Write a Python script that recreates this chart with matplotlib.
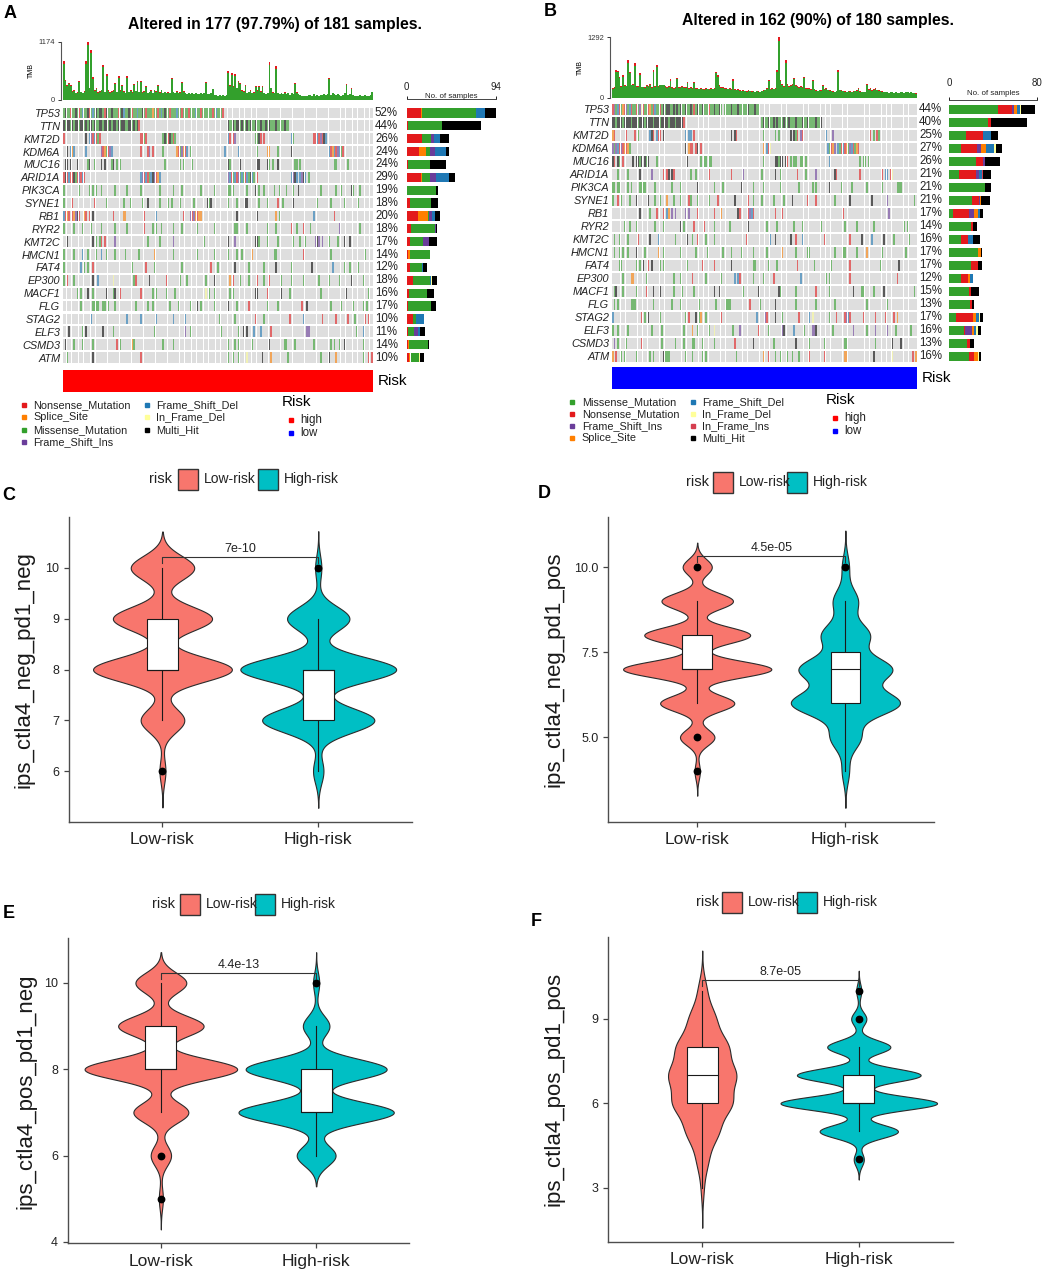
import numpy as np
import matplotlib
matplotlib.use('Agg')
import matplotlib.pyplot as plt
from matplotlib.patches import Rectangle

plt.rcParams['font.family'] = ['Liberation Sans', 'DejaVu Sans']

W, H = 1052, 1275

# ---------------- oncoplot data ----------------
genes = ['TP53', 'TTN', 'KMT2D', 'KDM6A', 'MUC16', 'ARID1A', 'PIK3CA', 'SYNE1', 'RB1', 'RYR2',
         'KMT2C', 'HMCN1', 'FAT4', 'EP300', 'MACF1', 'FLG', 'STAG2', 'ELF3', 'CSMD3', 'ATM']

n_a = 181
n_b = 180
risk_a = ['high'] * n_a
risk_b = ['low'] * n_b

pct_a = ['52%', '44%', '26%', '24%', '24%', '29%', '19%', '18%', '20%', '18%',
         '17%', '14%', '12%', '18%', '16%', '17%', '10%', '11%', '14%', '10%']
pct_b = ['44%', '40%', '25%', '27%', '26%', '21%', '21%', '21%', '17%', '14%',
         '16%', '17%', '17%', '12%', '15%', '13%', '17%', '16%', '13%', '16%']

# variant class codes: M missense, N nonsense, S splice, I frame-shift ins, D frame-shift del,
# d in-frame del, i in-frame ins, H multi-hit
vc_order_a = ['N', 'S', 'M', 'I', 'D', 'd', 'H']
side_a = [[15, 1, 57, 0, 9, 0, 12], [1, 0, 36, 0, 0, 0, 41], [16, 0, 10, 3, 6, 0, 10],
          [13, 7, 4, 6, 11, 0, 3], [1, 0, 24, 0, 0, 0, 16], [15, 1, 8, 7, 13, 0, 7],
          [0, 0, 31, 0, 0, 0, 2], [3, 0, 23, 0, 0, 0, 7], [12, 10, 1, 4, 3, 0, 5],
          [4, 0, 26, 1, 0, 0, 1], [3, 0, 14, 6, 0, 0, 9], [1, 2, 21, 0, 1, 0, 0],
          [3, 0, 13, 0, 1, 0, 4], [7, 0, 18, 0, 1, 1, 5], [2, 0, 19, 0, 0, 0, 8],
          [1, 0, 25, 0, 0, 0, 5], [7, 0, 3, 0, 8, 0, 0], [1, 0, 7, 4, 2, 0, 5],
          [1, 1, 20, 0, 0, 0, 2], [2, 2, 9, 0, 0, 1, 4]]
vc_order_b = ['M', 'N', 'I', 'S', 'D', 'd', 'i', 'H']
side_b = [[45, 12, 2, 3, 3, 1, 0, 12], [35, 3, 0, 0, 0, 0, 0, 33], [15, 16, 0, 0, 7, 0, 0, 7],
          [11, 14, 4, 5, 7, 2, 0, 5], [24, 7, 2, 0, 0, 0, 0, 13], [9, 15, 3, 0, 3, 0, 1, 7],
          [33, 0, 0, 0, 0, 0, 0, 5], [21, 6, 1, 1, 0, 0, 0, 8], [3, 15, 5, 3, 2, 0, 0, 3],
          [20, 2, 0, 0, 0, 0, 0, 3], [11, 6, 0, 0, 5, 0, 0, 6], [26, 0, 0, 3, 0, 0, 0, 1],
          [20, 6, 0, 0, 0, 0, 0, 4], [11, 6, 0, 2, 3, 0, 0, 0], [18, 2, 0, 0, 0, 0, 0, 7],
          [19, 2, 0, 0, 0, 0, 0, 2], [6, 16, 0, 2, 3, 1, 0, 3], [13, 1, 7, 2, 1, 2, 0, 3],
          [16, 3, 0, 0, 0, 0, 0, 4], [18, 5, 0, 3, 0, 1, 0, 2]]

# "start:codes" runs, a token without start continues the previous run
mut_a = [
    "0:MHMMNMMHMN MDMMHNMDMH MHHMNHMMHM MMNMHDMMHM NMMDMMHMNM MMSMMNMDMH MMNMMMDMMN MMMNMMMDMM NMMMMMMNMD MMMN",
    "0:HMHHMHMHHM HHMHMHHMHM MHHMHHMHMH HMHMHHMMHH MHMHN 96:HMMH MHHMHMMHMH MMHMMHMMHM HMMMHMMMMH MM",
    "0:N 13:H.DINDN MN 45:NNMN 58:MHMNHMNM 96:DN.NI 112:MMHN.N 133:DM 146:NNDNINHD",
    "2:H.DSD 13:D 22:INSMNID 45:N 49:NI.N 58:M 66:SNMISND.M 94:D 102:D 113:M 119:SS 125:M 133:H 155:DNSDNIDMN",
    "1:HH.H 8:H 14:MH..M 22:H.H 28:MH.M.M 59:M 68:M.M 75:M 96:HM 103:H 113:HH 119:HM.M..H 135:MM.M 158:MM 166:M",
    "0:NHNDNNHMNI NDN 45:DINDNMDHINSD 96:IDNM DNIMDMNDMH DM.N 133:DIHD.DIHD.M",
    "0:M 9:M 15:M.M.M 22:M 30:M 37:M 45:M 56:M 64:M 69:M 80:M 88:M 96:MM.M 107:M 112:H.M..M 123:M..M "
    "130:M...M..H 150:M 159:M 162:M 168:HM 173:M",
    "0:M 5:N 18:N 25:M 35:M 39:M 46:M 49:H 56:M 61:M.M 68:M 76:M 84:HMH 96:M 101:M 106:HH 114:M 119:M "
    "125:N 128:M 134:H 148:M 156:M 164:M 172:M",
    "0:DNSN.NSIHN 12:SN.N.H 29:N 35:SS 47:N 54:D 70:N 74:INISNSS 101:H 113:H 124:S.M 146:D 158:N",
    "0:M 6:M 11:M 16:M 22:M 30:M 37:M 47:N 52:M.M..M 64:M 69:M 78:M 88:M 100:MM 107:M 119:M 124:M "
    "133:N..M 140:N...M 161:I 173:M",
    "2:H 17:H.M.MN.N 30:I 49:M 56:M 64:I 82:M 96:H 100:I 112:HHM 119:M 125:M 134:M 138:M 141:M "
    "147:IHI.I 155:M 160:M 164:H 167:H",
    "0:M 6:M 11:D 14:M 19:M 22:D 25:M 30:M 36:M 44:M 53:S 64:M 78:M 88:M 96:M 101:M 104:M 110:S "
    "123:MM 140:N 156:M 176:M",
    "0:M 10:D 12:M.M 17:N 40:M 48:N 53:M 69:M 86:N 90:M 100:H 108:M 117:M 124:H 133:M 145:H 157:D "
    "164:M 167:M 172:M",
    "0:M.N 6:M 17:H 20:D 29:d 41:MN 50:H 60:N 68:M 72:M 83:M 88:H 97:S.N 103:M 108:M 113:N 117:M "
    "120:N 127:M 133:M 140:M 149:M 155:M 161:M 168:H 175:M",
    "8:M.M 14:H 17:M 25:H 29:MH 33:N 45:N 52:M.M 60:M 65:M 83:d.M 88:M 97:M.M 112:HH 119:N 127:H "
    "132:M 150:M 165:H 178:M",
    "10:M 17:MMMM 23:MM.M 30:M 42:M 49:M 52:M 62:M 67:M 74:M 78:H 80:M 88:M 96:H 101:M 108:N 119:M "
    "125:M 139:N 142:H 156:M 162:M 169:M 175:M 177:M",
    "16:D 37:D 45:D 54:D 64:D 71:D 91:M 100:M 112:N 117:M 132:N 140:D 151:N 159:N 166:N 170:M 176:N 178:N",
    "3:H 11:M 13:H 23:H 29:M 53:M 71:I 74:M 92:M 102:M 105:H.H 111:D 115:D 121:N 142:II 171:M 175:D",
    "1:H 6:M 11:M 17:M 31:N 33:M 40:SM 58:M 64:M 96:M 100:M.M 110:M 120:H 129:MM 135:M 146:M 156:M.M "
    "161:M 164:H 175:M",
    "2:M 17:H 45:N 96:M 99:M 102:M 107:d 116:H 121:S 131:M 150:M 155:H 159:S 175:M 178:N 180:N",
]

mut_b = [
    "0:NIMDNMSNIM DNMMNMIdNM MNSMNDMMNM HMHHMMHMHM HMMHMMHMNM HMMHMMMNMM HMMHM.MMMM HMMMHMMMMM HMMMHMM",
    "0:HHMHHHMHHH HMHHHMHHHM HHHHMHHHMH HHHMHHHMHH HHN 88:MHMMHMMHMH MMMHMMHMMM HMMMHMMHMM MMHMMH",
    "0:SN 8:N 13:N.M 22:DHN.DNN.H 43:D 45:DD.N 70:H.HN 89:M 96:M.M 105:H.HMN.IN 126:D 130:I 152:N.M.NM",
    "0:IMIDNINSNS M 43:H.SNN.NH.N 89:S.DNd 127:DMNSI.DMND NSMIDNMSN",
    "0:HN.HM.N 12:H.HHMH.HMH 26:M 44:H 52:M.MM.MM 89:M 96:HHMHH.HN 105:M.MM..MM.M 128:D 146:M.MM.M",
    "3:M 9:M 16:H 23:I 30:N.NH.HN 46:M 49:M 57:N 70:N 77:I 88:M 96:H 99:M 109:N 114:M 120:I 131:HN "
    "146:N 159:N.DD.Nd",
    "0:MM.MM 9:M.M 16:MMMM 25:M 35:M 40:M 50:H 60:M 65:M 76:H 83:M 89:M 99:M 110:M 118:M 120:M 128:H "
    "135:M 141:M 150:M 159:M 168:MMM",
    "0:M 3:N 5:M 10:M 14:H 21:H 25:M 28:M 32:S 36:M 40:M 45:NM 50:M 57:M 62:N 72:H 80:N 83:M 88:M "
    "95:M 101:M 106:H 115:N 120:N 131:M 140:H 153:H 162:I 178:M",
    "16:H 22:M 26:N 30:N.DS.I.I 43:I.I 50:N 60:N 64:S 74:HN 80:NIDN 96:N 100:N 136:N 163:I",
    "7:M 10:M 14:M 25:M 30:M 40:H.M 48:N 54:N 60:M 69:M 80:H 91:M 97:M 107:M 112:M 123:M 137:M "
    "144:M 154:M 172:M.M",
    "1:M 4:M 9:M 15:N 22:H 27:D 37:M 44:H 47:M 50:N 55:M 60:M 79:N 93:D 96:H 105:H 108:N 112:D "
    "125:N 140:N 147:H 153:D 160:H 166:M 175:M",
    "1:M 4:M 6:M 9:M 14:H 19:M 27:S 30:M 40:M 49:M 56:M 65:M 70:M 76:M 83:M 91:M 100:S 108:M 115:MM "
    "131:M 136:MM 144:M 150:S 159:M 173:M",
    "4:MM 14:M.M.H 21:N.H 28:M.M 44:M 53:N 60:N 70:H 83:MM 92:M 97:M 109:N 119:M 129:M 140:N 158:M 169:H",
    "6:M 11:SS 20:M 36:M 40:M 47:N 55:M 64:M 72:D.DN 83:M 89:M 95:N 111:D 126:M.M 140:N 168:N",
    "1:MH 6:M 14:M 20:N 24:H 28:H 36:M 41:M 48:M 60:H 63:H 77:M 86:H 98:HM 108:M 120:N 128:M 142:H "
    "147:MM 154:M 160:H 178:M",
    "1:M 3:M 11:MMM 24:M 35:M 40:M 51:M 61:M 67:MMM 81:N 87:M 96:H 108:M 120:M 131:M 150:M 162:M",
    "0:D 17:N.M.H 28:M 43:M.N...H.MS..M 64:N 85:D 90:IN 96:H 100:M 110:N 116:D.d 128:M 132:N 137:NIDN "
    "148:N 155:N 161:N 166:N.S",
    "0:M 3:M 9:M 23:M 29:M 42:M 47:S 50:M 57:M 60:d 71:M 75:I 86:N 92:M 100:IH 107:D 113:M 118:IIH "
    "130:M 142:I 150:M 155:I 162:I 167:M 176:M",
    "1:I 3:M 8:M 17:N 29:M 37:M 42:M 47:MM 53:M 60:M 72:N 83:H 95:M 108:H 116:M 125:M 137:MM 155:M "
    "165:H 170:H",
    "0:S.N..M.M 14:M 22:M.M 30:HMMM 43:M 47:M 53:M.M 73:M 89:S..N 96:M 99:M 103:M 106:M 110:M 116:N "
    "125:N 137:SS 154:H 165:d 177:N.S",
]

# TMB per sample (total) and its nonsense part
tmb_a = [776, 400, 300, 350, 310, 180, 200, 150, 160, 380,
         170, 140, 180, 776, 1174, 250, 1000, 460, 200, 245,
         160, 180, 210, 700, 170, 520, 200, 160, 180, 200,
         345, 170, 480, 200, 310, 180, 150, 480, 170, 200,
         160, 325, 190, 380, 170, 390, 160, 180, 280, 150,
         170, 200, 150, 210, 180, 310, 160, 210, 150, 170,
         140, 160, 150, 445, 170, 145, 180, 150, 160, 360,
         180, 150, 120, 140, 130, 145, 120, 140, 130, 120,
         140, 130, 150, 360, 130, 120, 140, 230, 110, 100,
         90, 110, 80, 100, 90, 110, 575, 300, 545, 280,
         520, 250, 380, 345, 200, 180, 310, 150, 170, 200,
         150, 160, 280, 200, 280, 180, 280, 150, 120, 140,
         760, 250, 160, 140, 675, 140, 120, 150, 130, 160,
         120, 150, 110, 140, 130, 345, 160, 120, 100, 80,
         80, 90, 80, 100, 110, 90, 120, 80, 100, 90,
         110, 100, 130, 110, 120, 445, 100, 140, 120, 110,
         130, 110, 90, 100, 140, 325, 110, 120, 245, 100,
         80, 90, 80, 100, 80, 90, 100, 80, 90, 100,
         165]
nons_a = [50, 25, 20, 22, 20, 12, 12, 10, 10, 25,
          10, 8, 12, 50, 70, 15, 60, 30, 12, 15,
          10, 12, 14, 45, 10, 35, 12, 10, 12, 12,
          22, 10, 30, 12, 20, 12, 10, 30, 10, 12,
          10, 20, 12, 25, 10, 25, 10, 12, 18, 10,
          10, 12, 10, 14, 12, 20, 10, 14, 10, 10,
          8, 10, 10, 28, 10, 9, 12, 10, 10, 22,
          12, 10, 8, 9, 8, 9, 8, 9, 8, 8,
          9, 8, 10, 22, 8, 8, 9, 15, 7, 6,
          6, 7, 5, 6, 6, 7, 35, 20, 35, 18,
          32, 16, 24, 22, 12, 12, 20, 10, 10, 12,
          10, 10, 18, 12, 18, 12, 18, 10, 8, 9,
          50, 16, 10, 9, 45, 9, 8, 10, 8, 10,
          8, 10, 7, 9, 8, 22, 10, 8, 6, 5,
          5, 6, 5, 6, 7, 6, 8, 5, 6, 6,
          7, 6, 8, 7, 8, 28, 6, 9, 8, 7,
          8, 7, 6, 6, 9, 20, 7, 8, 15, 6,
          5, 6, 5, 6, 5, 6, 6, 5, 6, 6,
          10]
tmb_b = [200, 220, 600, 580, 450, 250, 485, 270, 260, 800,
         560, 280, 300, 735, 250, 240, 520, 235, 235, 230,
         270, 240, 300, 230, 590, 250, 700, 250, 280, 280,
         280, 250, 230, 240, 390, 230, 200, 220, 430, 220,
         230, 240, 230, 220, 330, 210, 220, 200, 330, 200,
         200, 190, 200, 190, 180, 200, 190, 180, 200, 190,
         200, 560, 480, 270, 230, 220, 200, 210, 190, 200,
         180, 390, 180, 170, 180, 160, 150, 160, 150, 140,
         160, 150, 140, 150, 130, 150, 140, 130, 150, 160,
         170, 200, 380, 180, 200, 190, 200, 590, 1292, 380,
         300, 250, 800, 300, 250, 270, 300, 430, 270, 250,
         230, 240, 220, 450, 200, 210, 200, 180, 380, 190,
         160, 150, 170, 160, 270, 180, 200, 170, 160, 150,
         140, 130, 150, 590, 170, 160, 150, 140, 130, 150,
         140, 130, 140, 150, 160, 200, 140, 130, 120, 130,
         300, 180, 200, 160, 180, 200, 170, 160, 150, 140,
         130, 120, 130, 110, 120, 130, 110, 120, 100, 110,
         120, 130, 110, 120, 130, 100, 120, 110, 100, 90]
nons_b = [14, 15, 40, 38, 30, 16, 32, 18, 17, 55,
          38, 18, 20, 50, 16, 15, 35, 15, 15, 15,
          18, 15, 20, 15, 40, 16, 48, 16, 18, 18,
          18, 16, 15, 15, 26, 15, 13, 14, 29, 14,
          15, 16, 15, 14, 22, 14, 14, 13, 22, 13,
          13, 12, 13, 12, 12, 13, 12, 12, 13, 12,
          13, 38, 32, 18, 15, 14, 13, 14, 12, 13,
          12, 26, 12, 11, 12, 10, 10, 10, 10, 9,
          10, 10, 9, 10, 8, 10, 9, 8, 10, 10,
          11, 13, 25, 12, 13, 12, 13, 40, 85, 25,
          20, 16, 55, 20, 16, 18, 20, 29, 18, 16,
          15, 16, 14, 30, 13, 14, 13, 12, 25, 12,
          10, 10, 11, 10, 18, 12, 13, 11, 10, 10,
          9, 8, 10, 40, 11, 10, 10, 9, 8, 10,
          9, 8, 9, 10, 10, 13, 9, 8, 8, 8,
          20, 12, 13, 10, 12, 13, 11, 10, 10, 9,
          8, 8, 8, 7, 8, 8, 7, 8, 6, 7,
          8, 8, 7, 8, 8, 6, 8, 7, 6, 6]

# ---------------- violin data (score value -> number of samples) ----------------
groups = ['Low-risk', 'High-risk']
c_low_val, c_low_cnt = [6, 7, 8, 9, 10], [3, 22, 70, 50, 32]
c_high_val, c_high_cnt = [6, 7, 8, 9, 10], [5, 54, 75, 30, 3]
d_low_val, d_low_cnt = [4, 5, 6, 7, 8, 9, 10], [2, 13, 28, 56, 40, 27, 11]
d_high_val, d_high_cnt = [4, 5, 6, 7, 8, 9, 10], [4, 17, 61, 52, 27, 14, 4]
e_low_val, e_low_cnt = [5, 6, 7, 8, 9, 10], [2, 10, 27, 75, 42, 25]
e_high_val, e_high_cnt = [6, 7, 8, 9, 10], [19, 76, 69, 13, 3]
f_low_val, f_low_cnt = [3, 4, 5, 6, 7, 8, 9, 10], [2, 8, 22, 40, 45, 35, 18, 6]
f_high_val, f_high_cnt = [4, 5, 6, 7, 8, 9, 10], [4, 31, 62, 49, 25, 6, 2]

# ---------------- styles ----------------
VC_COL = {'M': '#33A02C', 'N': '#E31A1C', 'S': '#FF7F00', 'I': '#6A3D9A', 'D': '#1F78B4',
          'd': '#FFFF99', 'i': '#D53E4F', 'H': '#000000'}
VC_NAME = {'M': 'Missense_Mutation', 'N': 'Nonsense_Mutation', 'S': 'Splice_Site',
           'I': 'Frame_Shift_Ins', 'D': 'Frame_Shift_Del', 'd': 'In_Frame_Del',
           'i': 'In_Frame_Ins', 'H': 'Multi_Hit'}
RISK_COL = {'high': '#FF0000', 'low': '#0000FF'}
GRP_COL = ['#F8766D', '#00BFC4']
BG = '#DEDEDE'

fig = plt.figure(figsize=(W / 100, H / 100), dpi=100)


def px_axes(l, t, r, b):
    return fig.add_axes([l / W, 1 - b / H, (r - l) / W, (b - t) / H])


def parse_row(spec, n):
    row = ['.'] * n
    pos = 0
    for tok in spec.split():
        if ':' in tok:
            s, tok = tok.split(':')
            pos = int(s)
        for ch in tok:
            if pos < n and ch != '.':
                row[pos] = ch
            pos += 1
    return row


def draw_onco(L, n, mut, pct, side, vc_order, side_max, tmb, nons, risk):
    gl, gt, gr, gb = L['grid']
    x = np.arange(n)
    ng = len(genes)

    # TMB bars
    ax = px_axes(gl, L['tmb'][0], gr, L['tmb'][1])
    tmb = np.array(tmb)
    nons = np.array(nons)
    ax.bar(x, tmb - nons, width=1.0, color=VC_COL['M'], linewidth=0)
    ax.bar(x, nons, bottom=tmb - nons, width=1.0, color=VC_COL['N'], linewidth=0)
    ax.set_xlim(-0.5, n - 0.5)
    ax.set_ylim(0, tmb.max())
    for s in ['top', 'right', 'bottom']:
        ax.spines[s].set_visible(False)
    ax.spines['left'].set_position(('outward', 1.5))
    ax.spines['left'].set_color('#555555')
    ax.spines['left'].set_linewidth(0.8)
    ax.set_xticks([])
    ax.set_yticks([0, tmb.max()])
    ax.set_yticklabels(['0', str(tmb.max())])
    ax.tick_params(axis='y', length=2.5, width=0.7, pad=1.5, labelsize=5.4, colors='#333333')
    ax.set_ylabel('TMB', fontsize=5)
    ax.yaxis.set_label_coords((L['tmb_lab_x'] - gl) / (gr - gl), 0.5)
    ax.patch.set_alpha(0)

    # mutation grid
    ax = px_axes(gl, gt, gr, gb)
    for r, spec in enumerate(mut):
        row = parse_row(spec, n)
        ax.bar(x, 0.84, bottom=r - 0.42, width=0.88, color=BG, linewidth=0)
        for code, col in VC_COL.items():
            idx = [c for c in range(n) if row[c] == code]
            if idx:
                ax.bar(idx, 0.84, bottom=r - 0.42, width=0.88, color=col, alpha=0.6, linewidth=0)
        ax.annotate(pct[r], xy=(1, r), xycoords=ax.get_yaxis_transform(), xytext=(1.4, 0),
                    textcoords='offset points', ha='left', va='center', fontsize=8.3, color='#222222')
    ax.set_xlim(-0.5, n - 0.5)
    ax.set_ylim(ng - 0.5, -0.5)
    ax.set_xticks([])
    ax.set_yticks(range(ng))
    ax.set_yticklabels(genes, fontstyle='italic', fontsize=7.8, color='#222222')
    ax.tick_params(length=0, pad=2)
    for s in ax.spines.values():
        s.set_visible(False)

    # side bars (number of samples)
    ax = px_axes(L['side'][0], gt, L['side'][1], gb)
    arr = np.array(side)
    left = np.zeros(ng)
    for j, code in enumerate(vc_order):
        ax.barh(np.arange(ng), arr[:, j], left=left, height=0.72, color=VC_COL[code], linewidth=0)
        left += arr[:, j]
    ax.set_xlim(0, side_max)
    ax.set_ylim(ng - 0.5, -0.5)
    for s in ['bottom', 'left', 'right']:
        ax.spines[s].set_visible(False)
    ax.spines['top'].set_position(('outward', L['side_out'] * 0.72))
    ax.spines['top'].set_color('#444444')
    ax.spines['top'].set_linewidth(0.7)
    ax.set_yticks([])
    ax.xaxis.tick_top()
    ax.set_xticks([0, side_max])
    ax.tick_params(axis='x', length=2.5, width=0.7, pad=L['side_pad'], labelsize=7, colors='#222222')
    ax.annotate('No. of samples', xy=(0.5, 1), xycoords='axes fraction',
                xytext=(0, (L['side_out'] + L['nos_up']) * 0.72), textcoords='offset points',
                ha='center', va='center', fontsize=5.7, color='#222222')
    ax.patch.set_alpha(0)

    # risk annotation bar
    ax = px_axes(gl, L['risk'][0], gr, L['risk'][1])
    ax.bar(x, 1, width=1.0, color=[RISK_COL[v] for v in risk], linewidth=0)
    ax.set_xlim(-0.5, n - 0.5)
    ax.set_ylim(0, 1)
    ax.axis('off')
    ax.annotate('Risk', xy=(1, 0.5), xycoords='axes fraction', xytext=(3.2, 0),
                textcoords='offset points', ha='left', va='center', fontsize=11)


def nrd0(x):
    q75, q25 = np.percentile(x, [75, 25])
    lo = min(np.std(x, ddof=1), (q75 - q25) / 1.34)
    return 0.9 * lo * len(x) ** -0.2


def draw_violin(L, vals, cnts, p_text, bracket_y, yticks, yticklabels, ylabel):
    ax = px_axes(*L['rect'])
    samples = [np.repeat(np.array(v, float), c) for v, c in zip(vals, cnts)]
    dens = []
    for s in samples:
        bw = nrd0(s)
        yy = np.linspace(s.min() - 3 * bw, s.max() + 3 * bw, 512)
        d = np.exp(-0.5 * ((yy[:, None] - s[None, :]) / bw) ** 2).sum(1) / (len(s) * bw * np.sqrt(2 * np.pi))
        dens.append((yy, d))
    dmax = max(d.max() for _, d in dens)
    for i, ((yy, d), s) in enumerate(zip(dens, samples)):
        pos = i + 1
        w = d / dmax * 0.5
        ax.fill_betweenx(yy, pos - w, pos + w, facecolor=GRP_COL[i], edgecolor='#2b2b2b',
                         linewidth=0.8, zorder=1)
        q1, med, q3 = np.percentile(s, [25, 50, 75])
        iqr = q3 - q1
        lo = s[s >= q1 - 1.5 * iqr].min()
        hi = s[s <= q3 + 1.5 * iqr].max()
        ax.plot([pos, pos], [q3, hi], color='#1a1a1a', lw=0.8, zorder=2)
        ax.plot([pos, pos], [lo, q1], color='#1a1a1a', lw=0.8, zorder=2)
        ax.add_patch(Rectangle((pos - 0.1, q1), 0.2, q3 - q1, facecolor='white',
                               edgecolor='#1a1a1a', lw=0.8, zorder=3))
        ax.plot([pos - 0.1, pos + 0.1], [med, med], color='#1a1a1a', lw=0.8, zorder=4)
        out = np.unique(s[(s < lo) | (s > hi)])
        ax.plot(np.full(len(out), pos), out, 'o', color='black', ms=4.6, zorder=5)
    lo_all = min(yy.min() for yy, _ in dens)
    hi_all = max(yy.max() for yy, _ in dens)
    span = hi_all - lo_all
    ax.set_ylim(lo_all - 0.05 * span, hi_all + 0.05 * span)
    ax.set_xlim(0.4, 2.6)
    tip = 0.022 * span
    ax.plot([1, 1, 2, 2], [bracket_y - tip, bracket_y, bracket_y, bracket_y - tip],
            color='#333333', lw=0.8, zorder=6)
    ax.text(1.5, bracket_y + 0.008 * span, p_text, ha='center', va='bottom', fontsize=9,
            color='#222222')
    ax.set_xticks([1, 2])
    ax.set_xticklabels(groups, fontsize=12.5, color='#1a1a1a')
    ax.set_yticks(yticks)
    ax.set_yticklabels(yticklabels, fontsize=9, color='#333333')
    ax.tick_params(length=3.5, width=0.9, colors='#444444', labelcolor='#222222')
    ax.tick_params(axis='x', pad=4)
    for s in ['top', 'right']:
        ax.spines[s].set_visible(False)
    for s in ['left', 'bottom']:
        ax.spines[s].set_color('#4d4d4d')
        ax.spines[s].set_linewidth(1.0)
    ax.set_ylabel(ylabel, fontsize=16, color='#1a1a1a')
    ax.yaxis.set_label_coords(L['ylab_x'], 0.5)


# ---------------- oncoplots ----------------
LA = dict(grid=(63, 106.5, 373, 364), tmb=(41.7, 100), side=(406.7, 496), side_out=7.2,
          side_pad=2.5, nos_up=2.6, risk=(370, 392.3), tmb_lab_x=34.5)
LB = dict(grid=(612, 102.7, 917, 362.7), tmb=(37.3, 97.7), side=(949.3, 1036.7), side_out=2.7,
          side_pad=6, nos_up=6.7, risk=(366.7, 389), tmb_lab_x=584)
draw_onco(LA, n_a, mut_a, pct_a, side_a, vc_order_a, 94, tmb_a, nons_a, risk_a)
draw_onco(LB, n_b, mut_b, pct_b, side_b, vc_order_b, 80, tmb_b, nons_b, risk_b)

# ---------------- violins ----------------
draw_violin(dict(rect=(69, 517.3, 411.7, 821.7), ylab_x=-0.10),
            [c_low_val, c_high_val], [c_low_cnt, c_high_cnt], '7e-10', 10.21,
            [6, 7, 8, 9, 10], ['6', '7', '8', '9', '10'], 'ips_ctla4_neg_pd1_neg')
draw_violin(dict(rect=(608.3, 516.7, 934.3, 821.7), ylab_x=-0.133),
            [d_low_val, d_high_val], [d_low_cnt, d_high_cnt], '4.5e-05', 10.32,
            [5, 7.5, 10], ['5.0', '7.5', '10.0'], 'ips_ctla4_neg_pd1_pos')
draw_violin(dict(rect=(67.7, 938.3, 409.3, 1243.3), ylab_x=-0.09),
            [e_low_val, e_high_val], [e_low_cnt, e_high_cnt], '4.4e-13', 10.23,
            [4, 6, 8, 10], ['4', '6', '8', '10'], 'ips_ctla4_pos_pd1_neg')
draw_violin(dict(rect=(608.3, 936.7, 952.7, 1241.7), ylab_x=-0.126),
            [f_low_val, f_high_val], [f_low_cnt, f_high_cnt], '8.7e-05', 10.38,
            [3, 6, 9], ['3', '6', '9'], 'ips_ctla4_pos_pd1_pos')

# ---------------- overlay: letters, titles, legends ----------------
ov = fig.add_axes([0, 0, 1, 1])
ov.set_xlim(0, W)
ov.set_ylim(H, 0)
ov.axis('off')

for letter, lx, ly in [('A', 10, 14), ('B', 550, 12), ('C', 9, 496),
                       ('D', 544, 493), ('E', 9, 913), ('F', 536, 922)]:
    ov.text(lx, ly, letter, fontsize=13, fontweight='bold', ha='center', va='center')

ov.text(275, 24, 'Altered in 177 (97.79%) of 181 samples.', fontsize=11.3, fontweight='bold',
        ha='center', va='center')
ov.text(818, 21, 'Altered in 162 (90%) of 180 samples.', fontsize=11.3, fontweight='bold',
        ha='center', va='center')


def onco_legend(cols, x_sq, x_tx, ys, risk_xy):
    for codes, xs, xt in zip(cols, x_sq, x_tx):
        for code, y in zip(codes, ys):
            ov.plot(xs, y, 's', color=VC_COL[code], ms=3.4)
            ov.text(xt, y, VC_NAME[code], fontsize=7.8, va='center', ha='left', color='#222222')
    rx, ry = risk_xy
    ov.text(rx, ry, 'Risk', fontsize=11, va='center', ha='left')
    for k, lev in enumerate(['high', 'low']):
        yy = ry + 18 + 12.6 * k
        ov.plot(rx + 9, yy, 's', color=RISK_COL[lev], ms=3.4)
        ov.text(rx + 18.5, yy, lev, fontsize=8.3, va='center', ha='left', color='#222222')


onco_legend([['N', 'S', 'M', 'I'], ['D', 'd', 'H']], [24, 147], [33.3, 155.7],
            [405, 417.3, 429.7, 442], (281.7, 402.3))
onco_legend([['M', 'N', 'I', 'S'], ['D', 'd', 'i', 'H']], [572.2, 692.8], [581.7, 702.3],
            [401.7, 414, 426, 438.3], (826, 400))


def violin_legend(x_risk, y, box1, box2):
    ov.text(x_risk, y, 'risk', fontsize=10.5, va='center', ha='left', color='#222222')
    for bx, col, lab in [(box1, GRP_COL[0], groups[0]), (box2, GRP_COL[1], groups[1])]:
        ov.add_patch(Rectangle((bx, y - 10.5), 19.5, 21, facecolor=col, edgecolor='#333333', lw=1.0))
        ov.text(bx + 25.5, y, lab, fontsize=10, va='center', ha='left', color='#222222')


violin_legend(149, 479, 178, 258)
violin_legend(686, 482, 713, 787)
violin_legend(152, 904, 180, 255)
violin_legend(696, 902, 722, 797)

fig.savefig('out.png', dpi=100)
